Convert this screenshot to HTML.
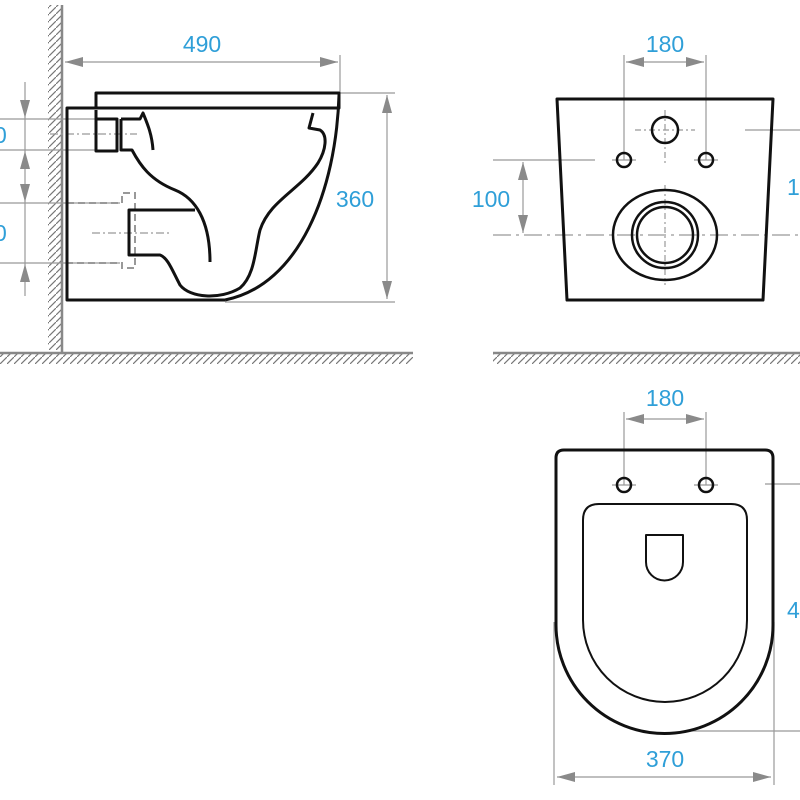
<!DOCTYPE html>
<html><head><style>
body{margin:0;background:#fff}
svg{display:block}
text{font-family:"Liberation Sans",sans-serif;font-size:23px;fill:#2f9fd8}
</style></head><body>
<svg width="800" height="800" viewBox="0 0 800 800" xmlns="http://www.w3.org/2000/svg">
<defs>
<pattern id="hv" width="7" height="7" patternUnits="userSpaceOnUse"><path d="M0,7 L7,0" stroke="#777" stroke-width="1.2"/></pattern>
</defs>
<g stroke="#999" stroke-width="1.2" fill="none">
<rect x="48" y="5" width="14" height="345" fill="url(#hv)" stroke="none"/>
<line x1="62" y1="5" x2="62" y2="353" stroke="#888" stroke-width="2.5"/>
<rect x="48" y="354" width="365" height="10" fill="url(#hv)" stroke="none"/>
<rect x="0" y="354" width="48" height="10" fill="url(#hv)" stroke="none"/>
<line x1="0" y1="353" x2="413" y2="353" stroke="#888" stroke-width="2.5"/>
<rect x="493" y="354" width="307" height="10" fill="url(#hv)" stroke="none"/>
<line x1="493" y1="353" x2="800" y2="353" stroke="#888" stroke-width="2.5"/>
<line x1="65" y1="62" x2="338" y2="62"/>
<line x1="340" y1="55" x2="340" y2="93"/>
<line x1="340" y1="93" x2="395" y2="93"/>
<line x1="225" y1="302" x2="395" y2="302"/>
<line x1="387" y1="95" x2="387" y2="299"/>
<line x1="0" y1="119" x2="95" y2="119"/>
<line x1="0" y1="150" x2="95" y2="150"/>
<line x1="0" y1="203" x2="120" y2="203"/>
<line x1="0" y1="263" x2="120" y2="263"/>
<line x1="25" y1="82" x2="25" y2="296"/>
<line x1="50" y1="134" x2="137" y2="134" stroke-dasharray="8,3,2,3"/>
<line x1="92" y1="233" x2="170" y2="233" stroke-dasharray="8,3,2,3"/>
<path d="M67,203 H122 V193 H135 V268 H122 V263 H67" stroke-dasharray="7,4" stroke-width="2"/>
<line x1="624" y1="55" x2="624" y2="160"/>
<line x1="706" y1="55" x2="706" y2="160"/>
<line x1="626" y1="62" x2="704" y2="62"/>
<line x1="493" y1="160" x2="595" y2="160"/>
<line x1="493" y1="235" x2="800" y2="235" stroke-dasharray="18,5,3,5"/>
<line x1="523" y1="162" x2="523" y2="233"/>
<line x1="745" y1="130" x2="800" y2="130"/>
<line x1="635" y1="130" x2="695" y2="130" stroke-dasharray="6,3,2,3"/>
<line x1="665" y1="110" x2="665" y2="165" stroke-dasharray="6,3,2,3"/>
<line x1="665" y1="185" x2="665" y2="285" stroke-dasharray="6,3,2,3"/>
<line x1="612" y1="160" x2="636" y2="160"/><line x1="694" y1="160" x2="718" y2="160"/>
<line x1="624" y1="412" x2="624" y2="485"/>
<line x1="706" y1="412" x2="706" y2="485"/>
<line x1="626" y1="419" x2="704" y2="419"/>
<line x1="612" y1="485" x2="636" y2="485"/><line x1="694" y1="485" x2="718" y2="485"/>
<line x1="765" y1="484" x2="800" y2="484"/>
<line x1="690" y1="731" x2="800" y2="731"/>
<line x1="554" y1="622" x2="554" y2="785"/>
<line x1="774" y1="622" x2="774" y2="785"/>
<line x1="557" y1="777" x2="771" y2="777"/>
</g>
<g fill="#8a8a8a">
<path d="M65,62 L83,57 L83,67Z M338,62 L320,57 L320,67Z"/>
<path d="M387,95 L382,113 L392,113Z M387,299 L382,281 L392,281Z"/>
<path d="M25,118 L20,100 L30,100Z M25,151 L20,169 L30,169Z M25,202 L20,184 L30,184Z M25,264 L20,282 L30,282Z"/>
<path d="M626,62 L644,57 L644,67Z M704,62 L686,57 L686,67Z"/>
<path d="M523,162 L518,180 L528,180Z M523,233 L518,215 L528,215Z"/>
<path d="M626,419 L644,414 L644,424Z M704,419 L686,414 L686,424Z"/>
<path d="M557,777 L575,772 L575,782Z M771,777 L753,772 L753,782Z"/>
</g>
<g stroke="#111" stroke-width="3" fill="none" stroke-linejoin="round">
<path d="M96,93 H339 V108 H96 Z"/>
<path d="M96,108 H67 V300 H225"/>
<path d="M339,95 C336,190 300,285 225,300"/>
<path d="M96,110 V151 H117 V119 H96"/>
<path d="M121,119 V150 H132 C140,165 150,180 175,190 C195,198 210,220 210,262"/>
<path d="M121,119 H140 L143,113 C148,125 152,135 153,150"/>
<path d="M313,113 L309,128 L320,130 C328,135 326,150 318,163 C300,190 270,200 260,230 C255,250 255,275 240,288 C220,300 190,298 180,285 C172,270 168,258 160,255 H129 V210 H195"/>
<path d="M557,99 H773 L763,300 H567 Z"/>
<circle cx="665" cy="130" r="13" stroke-width="2.5"/>
<circle cx="624" cy="160" r="7" stroke-width="2.5"/>
<circle cx="706" cy="160" r="7" stroke-width="2.5"/>
<ellipse cx="665" cy="235" rx="52" ry="45" stroke-width="2.5"/>
<circle cx="665" cy="235" r="33" stroke-width="2.5"/>
<circle cx="665" cy="235" r="28" stroke-width="2.5"/>
<path d="M556,625 V458 Q556,450 564,450 H765 Q773,450 773,458 V625 A108.5,108.5 0 0 1 556,625 Z"/>
<path d="M583,620 V520 Q583,504 599,504 H731 Q747,504 747,520 V620 A82,82 0 0 1 583,620 Z" stroke-width="2"/>
<path d="M646,535 H683 V562 A18.5,18.5 0 0 1 646,562 Z" stroke-width="2"/>
<circle cx="624" cy="485" r="7" stroke-width="2.5"/>
<circle cx="706" cy="485" r="7" stroke-width="2.5"/>
</g>
<text x="202" y="52" text-anchor="middle">490</text>
<text x="355" y="207" text-anchor="middle">360</text>
<text x="-6" y="143">0</text>
<text x="-6" y="241">0</text>
<text x="665" y="52" text-anchor="middle">180</text>
<text x="491" y="207" text-anchor="middle">100</text>
<text x="787" y="195">1</text>
<text x="665" y="406" text-anchor="middle">180</text>
<text x="665" y="767" text-anchor="middle">370</text>
<text x="787" y="618">4</text>
</svg>
</body></html>
